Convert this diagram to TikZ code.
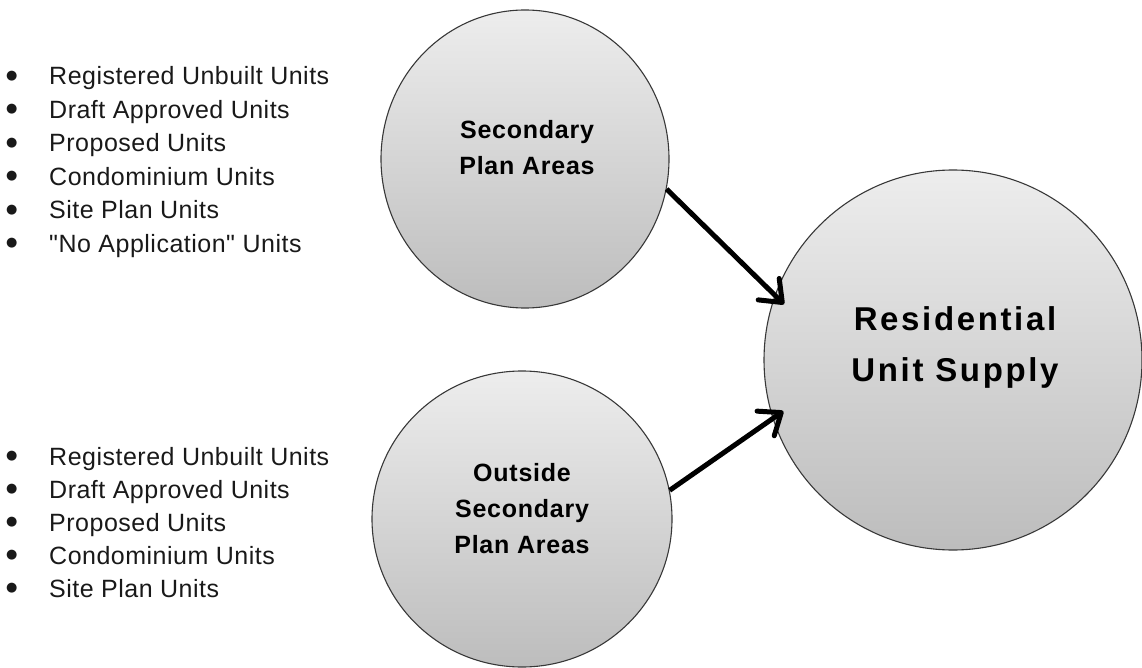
\documentclass[tikz,border=0pt]{standalone}
\usepackage{fontspec}
\setmainfont{Liberation Sans}[Ligatures=TeXOff]
\newfontfamily\symfont{DejaVu Sans}
\usetikzlibrary{arrows.meta,shapes.geometric}
\newcommand{\bigbul}{\makebox[43pt][l]{\raisebox{5.5pt}{\symfont\fontsize{13}{13}\selectfont ●}}}
\begin{document}
\begin{tikzpicture}[x=1pt,y=-1pt,
  bubble/.style={ellipse, draw=black!78, line width=1.1pt, top color=black!7, bottom color=black!26, inner sep=0pt},
  ctext/.style={font=\fontsize{25}{36}\selectfont\bfseries\addfontfeatures{LetterSpace=3}, align=center, text=black, inner sep=0pt},
  btext/.style={font=\fontsize{33}{51}\selectfont\bfseries\addfontfeatures{LetterSpace=8}, align=center, text=black, inner sep=0pt},
  item/.style={font=\fontsize{25}{33}\selectfont\addfontfeatures{LetterSpace=2}, anchor=base west, inner sep=0pt, text=black!90},
  flow/.style={line width=5pt, -{Straight Barb[length=19pt,width=30pt,round]}}
]
\useasboundingbox (0,0) rectangle (1142,668);

\node[bubble, minimum width=288pt, minimum height=298pt] (sec) at (525,159) {};
\node[bubble, minimum width=300pt, minimum height=296pt] (out) at (522,519) {};
\node[bubble, minimum width=378pt, minimum height=380pt] (res) at (953,360) {};

\node[ctext] (secT) at (527,148) {Secondary\\Plan Areas};
\node[ctext] (outT) at (522,509) {Outside\\Secondary\\Plan Areas};
\node[btext] (resT) at (955,347) {Residential\\Unit Supply};

\draw[flow, shorten >=-13pt] (sec.-12.5) -- (res.160.8);
\draw[flow, shorten >=-13pt] (out.11.3) -- (res.-162.4);

\foreach [count=\i] \t in {Registered Unbuilt Units, Draft Approved Units, Proposed Units, Condominium Units, Site Plan Units, {"No Application" Units}}
  \node[item] (a\i) at (6,{85+33.4*(\i-1)}) {\bigbul\t};

\foreach [count=\i] \t in {Registered Unbuilt Units, Draft Approved Units, Proposed Units, Condominium Units, Site Plan Units}
  \node[item] (b\i) at (6,{465+33*(\i-1)}) {\bigbul\t};
\end{tikzpicture}
\end{document}
